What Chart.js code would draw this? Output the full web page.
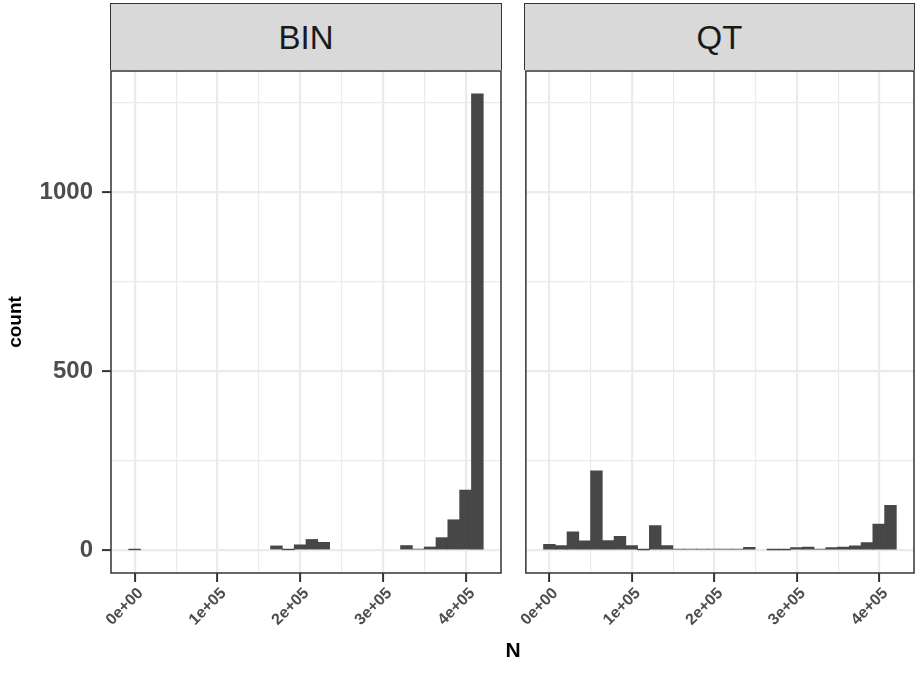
<!DOCTYPE html>
<html>
<head>
<meta charset="utf-8">
<script src="https://cdn.jsdelivr.net/npm/chart.js@4"></script>
<style>
  body { margin: 0; background: #fff; width: 915px; height: 690px; overflow: hidden; position: relative; font-family: "Liberation Sans", Arial, sans-serif; }
  canvas { position: absolute; top: 0; }
  .strip { position: absolute; top: 3px; height: 66px; background: #d9d9d9; border: 1.5px solid #333; border-bottom: none;
           font-size: 33px; color: #1a1a1a; text-align: center; line-height: 68px; box-sizing: content-box; }
  #xTitle { position: absolute; left: 463px; width: 100px; top: 638px; text-align: center; font-weight: bold; font-size: 21px; color: #000; }
</style>
</head>
<body>
<canvas id="binCanvas" width="505" height="690" style="left:0"></canvas>
<canvas id="qtCanvas" width="400" height="690" style="left:515px"></canvas>
<div class="strip" style="left:110px; width:390px">BIN</div>
<div class="strip" style="left:524px; width:389px">QT</div>
<div id="xTitle">N</div>
<script>
// panel names
const panels = ['BIN', 'QT'];

// histogram bin centres (N)
const binCenters = [0, 14250, 28500, 42750, 57000, 71250, 85500, 99750, 114000, 128250,
    142500, 156750, 171000, 185250, 199500, 213750, 228000, 242250, 256500, 270750,
    285000, 299250, 313500, 327750, 342000, 356250, 370500, 384750, 399000, 413250];
const binWidth = 14250;

// counts per bin
const binCounts = [1, 0, 0, 0, 0, 0, 0, 0, 0, 0,
    0, 0, 12, 1, 15, 30, 22, 0, 0, 0,
    0, 0, 0, 13, 3, 9, 35, 85, 168, 1275];
const qtCounts = [16, 13, 51, 26, 222, 27, 39, 13, 1, 69,
    13, 3, 3, 3, 3, 3, 3, 8, 0, 1,
    1, 7, 9, 3, 7, 9, 12, 21, 73, 125];

// axis ticks
const xTickValues = [0, 100000, 200000, 300000, 400000];
const xTickLabels = ['0e+00', '1e+05', '2e+05', '3e+05', '4e+05'];
const xMinorValues = [50000, 150000, 250000, 350000];
const yTickValues = [0, 500, 1000];
const yTickLabels = ['0', '500', '1000'];
const yMinorValues = [250, 750, 1250];

Chart.defaults.font.family = '"Liberation Sans", Arial, sans-serif';
Chart.defaults.animation = false;

const yMax = Math.max(...binCounts, ...qtCounts);
const yPad = yMax * 0.05;
const xLo = binCenters[0] - binWidth / 2;
const xHi = binCenters[binCenters.length - 1] + binWidth / 2;
const xPad = (xHi - xLo) * 0.05;

const gridColor = '#ebebeb';

const isMajor = (c, list) => !!(c.tick && list.includes(c.tick.value));

const panelBorder = {
    id: 'panelBorder',
    afterDraw(chart) {
        const a = chart.chartArea;
        const ctx = chart.ctx;
        ctx.save();
        ctx.strokeStyle = '#333333';
        ctx.lineWidth = 1.5;
        ctx.strokeRect(a.left, a.top, a.right - a.left, a.bottom - a.top);
        ctx.restore();
    }
};

function makeChart(canvasId, counts, showY) {
    const ctx = document.getElementById(canvasId).getContext('2d');
    return new Chart(ctx, {
        type: 'bar',
        data: {
            datasets: [{
                data: binCenters.map((x, i) => ({ x: x, y: counts[i] === 0 ? null : counts[i] })),
                backgroundColor: '#474747',
                borderWidth: 0,
                barPercentage: 1,
                categoryPercentage: 1
            }]
        },
        options: {
            responsive: false,
            layout: { padding: { top: 71, right: showY ? 4 : 1, left: 0, bottom: 0 } },
            plugins: { legend: { display: false }, tooltip: { enabled: false } },
            scales: {
                x: {
                    type: 'linear',
                    offset: false,
                    min: xLo - xPad,
                    max: xHi + xPad,
                    afterBuildTicks: s => {
                        s.ticks = xTickValues.concat(xMinorValues).sort((a, b) => a - b).map(v => ({ value: v }));
                    },
                    afterFit: s => { s.height = 117; },
                    border: { display: false },
                    grid: {
                        offset: false,
                        color: gridColor,
                        lineWidth: c => isMajor(c, xTickValues) ? 2.2 : 1.2,
                        tickColor: c => isMajor(c, xTickValues) ? '#333333' : 'rgba(0,0,0,0)',
                        tickLength: 9,
                        tickWidth: 2
                    },
                    ticks: {
                        autoSkip: false,
                        minRotation: 45,
                        maxRotation: 45,
                        padding: 2,
                        labelOffset: 6,
                        color: '#4d4d4d',
                        font: { size: 16, weight: 'bold' },
                        callback: v => {
                            const i = xTickValues.indexOf(v);
                            return i >= 0 ? xTickLabels[i] : '';
                        }
                    }
                },
                y: {
                    min: -yPad,
                    max: yMax + yPad,
                    afterBuildTicks: s => {
                        s.ticks = yTickValues.concat(yMinorValues).sort((a, b) => a - b).map(v => ({ value: v }));
                    },
                    afterFit: s => { s.width = showY ? 111 : 10; },
                    border: { display: false },
                    grid: {
                        color: gridColor,
                        lineWidth: c => isMajor(c, yTickValues) ? 2.2 : 1.2,
                        tickColor: c => (showY && isMajor(c, yTickValues)) ? '#333333' : 'rgba(0,0,0,0)',
                        tickLength: 9,
                        tickWidth: 2,
                        drawTicks: showY
                    },
                    ticks: {
                        display: showY,
                        padding: 9,
                        color: '#4d4d4d',
                        font: { size: 24, weight: 'bold' },
                        callback: v => {
                            const i = yTickValues.indexOf(v);
                            return i >= 0 ? yTickLabels[i] : '';
                        }
                    },
                    title: {
                        display: showY,
                        text: 'count',
                        color: '#000',
                        font: { size: 19, weight: 'bold' },
                        padding: { top: 4, bottom: 0 }
                    }
                }
            }
        },
        plugins: [panelBorder]
    });
}

makeChart('binCanvas', binCounts, true);
makeChart('qtCanvas', qtCounts, false);
</script>
</body>
</html>
